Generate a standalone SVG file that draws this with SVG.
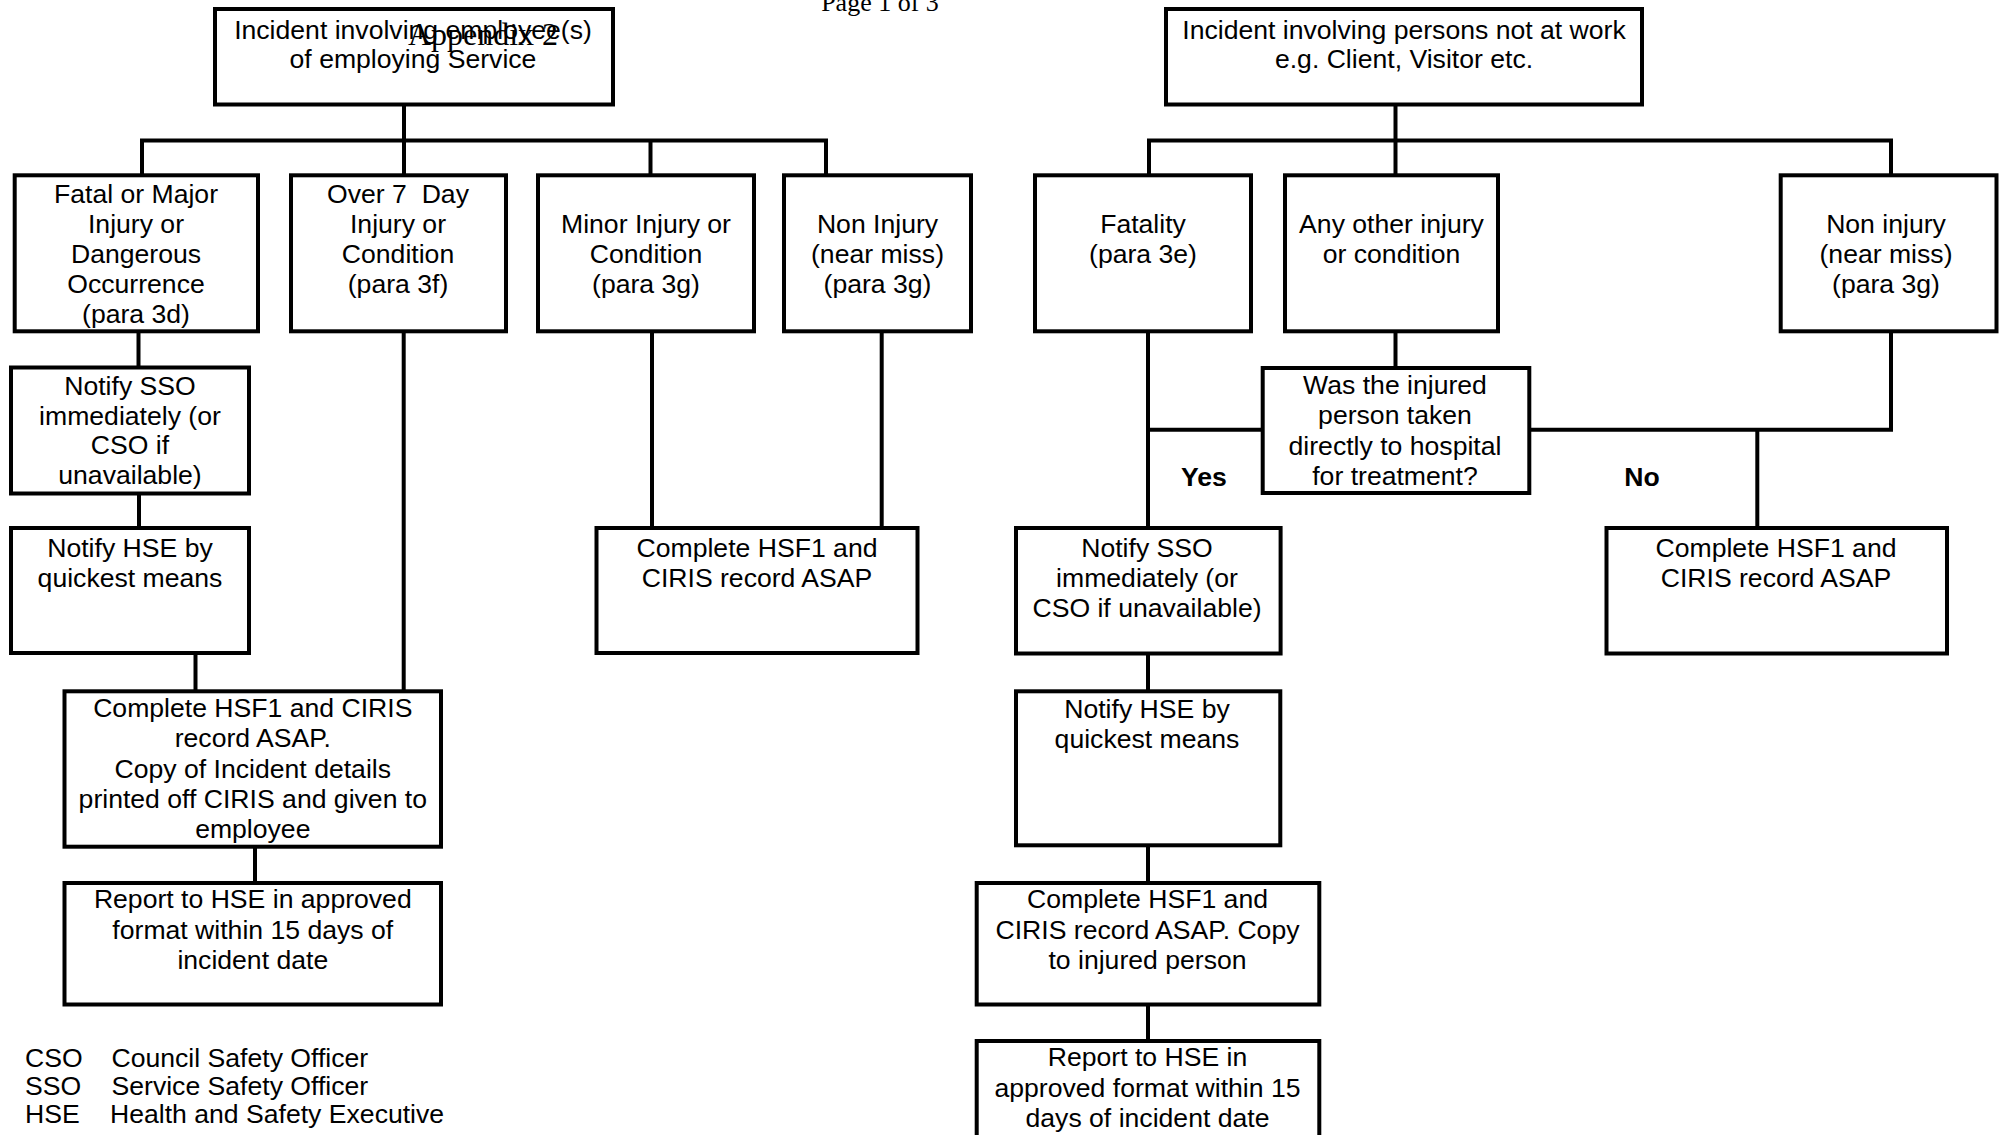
<svg xmlns="http://www.w3.org/2000/svg" width="2000" height="1135" viewBox="0 0 2000 1135">
<style>
.box{fill:#fff;stroke:#000;stroke-width:4}
.ln{fill:none;stroke:#000;stroke-width:4}
.t{font-family:"Liberation Sans",Arial,sans-serif;font-size:26.6px;text-anchor:middle;fill:#000}
.b{font-weight:bold}
.lg{font-family:"Liberation Sans",Arial,sans-serif;font-size:26.6px;fill:#000}
.hd{font-family:"Liberation Serif","Times New Roman",serif;text-anchor:middle;fill:#000}
</style>
<rect width="2000" height="1135" fill="#fff"/>
<g id="connectors">
<path class="ln" d="M404,104.5 V140.5"/>
<path class="ln" d="M142,175.3 V140.5 H826 V175.3"/>
<path class="ln" d="M404,140.5 V175.3"/>
<path class="ln" d="M650.5,140.5 V175.3"/>
<path class="ln" d="M138.5,331.3 V367.5"/>
<path class="ln" d="M139,493.5 V528"/>
<path class="ln" d="M195.5,653 V691.3"/>
<path class="ln" d="M403.7,331.3 V691.3"/>
<path class="ln" d="M255,846.7 V883"/>
<path class="ln" d="M652,331.3 V528"/>
<path class="ln" d="M881.7,331.3 V528"/>
<path class="ln" d="M1395.5,104.5 V140.5"/>
<path class="ln" d="M1149,175.3 V140.5 H1891 V175.3"/>
<path class="ln" d="M1395.5,140.5 V175.3"/>
<path class="ln" d="M1148,331.3 V528"/>
<path class="ln" d="M1395.5,331.3 V368"/>
<path class="ln" d="M1148,429.7 H1262.7"/>
<path class="ln" d="M1529.3,429.7 H1891 V331.3"/>
<path class="ln" d="M1757.3,429.7 V528"/>
<path class="ln" d="M1148,653.5 V691.3"/>
<path class="ln" d="M1148,845.3 V883"/>
<path class="ln" d="M1148,1004.5 V1041"/>
<text class="t b" x="1204" y="486">Yes</text>
<text class="t b" x="1642" y="486">No</text>
</g>
<g id="n-top-left">
<rect class="box" x="215" y="9" width="398" height="95.5"/>
<text class="t" x="413"><tspan x="413" y="38.5">Incident involving employee(s)</tspan><tspan x="413" y="67.5">of employing Service</tspan></text>
</g>
<g id="header">
<text class="hd" x="483" y="45" font-size="32">Appendix 2</text>
<text class="hd" x="880" y="10.5" font-size="26">Page 1 of 3</text>
</g>
<g id="n-fatal-major">
<rect class="box" x="14.7" y="175.3" width="243.3" height="156"/>
<text class="t"><tspan x="136" y="203.3">Fatal or Major</tspan><tspan x="136" y="233.3">Injury or</tspan><tspan x="136" y="263.3">Dangerous</tspan><tspan x="136" y="293.3">Occurrence</tspan><tspan x="136" y="323.3">(para 3d)</tspan></text>
</g>
<g id="n-over7">
<rect class="box" x="291" y="175.3" width="215" height="156"/>
<text class="t"><tspan x="398" y="203.3">Over 7&#160; Day</tspan><tspan x="398" y="233.3">Injury or</tspan><tspan x="398" y="263.3">Condition</tspan><tspan x="398" y="293.3">(para 3f)</tspan></text>
</g>
<g id="n-minor">
<rect class="box" x="538" y="175.3" width="216" height="156"/>
<text class="t"><tspan x="646" y="233.3">Minor Injury or</tspan><tspan x="646" y="263.3">Condition</tspan><tspan x="646" y="293.3">(para 3g)</tspan></text>
</g>
<g id="n-non-injury-left">
<rect class="box" x="784" y="175.3" width="187" height="156"/>
<text class="t"><tspan x="877.5" y="233.3">Non Injury</tspan><tspan x="877.5" y="263.3">(near miss)</tspan><tspan x="877.5" y="293.3">(para 3g)</tspan></text>
</g>
<g id="n-sso-left">
<rect class="box" x="11" y="367.5" width="238" height="126"/>
<text class="t"><tspan x="130" y="395">Notify SSO</tspan><tspan x="130" y="424.7">immediately (or</tspan><tspan x="130" y="454.4">CSO if</tspan><tspan x="130" y="484.1">unavailable)</tspan></text>
</g>
<g id="n-hse-left">
<rect class="box" x="11" y="528" width="238" height="125"/>
<text class="t"><tspan x="130" y="556.5">Notify HSE by</tspan><tspan x="130" y="586.5">quickest means</tspan></text>
</g>
<g id="n-complete-mid">
<rect class="box" x="596.5" y="528" width="321" height="125"/>
<text class="t"><tspan x="757" y="556.5">Complete HSF1 and</tspan><tspan x="757" y="586.5">CIRIS record ASAP</tspan></text>
</g>
<g id="n-complete-left">
<rect class="box" x="64.5" y="691.3" width="376.5" height="155.4"/>
<text class="t"><tspan x="252.8" y="717">Complete HSF1 and CIRIS</tspan><tspan x="252.8" y="747.3">record ASAP.</tspan><tspan x="252.8" y="777.6">Copy of Incident details</tspan><tspan x="252.8" y="808">printed off CIRIS and given to</tspan><tspan x="252.8" y="838">employee</tspan></text>
</g>
<g id="n-report-left">
<rect class="box" x="64.5" y="883" width="376.5" height="121.5"/>
<text class="t"><tspan x="252.8" y="908.3">Report to HSE in approved</tspan><tspan x="252.8" y="938.5">format within 15 days of</tspan><tspan x="252.8" y="968.7">incident date</tspan></text>
</g>
<g id="legend">
<text class="lg" x="25" y="1067.3">CSO</text><text class="lg" x="111.5" y="1067.3">Council Safety Officer</text>
<text class="lg" x="25" y="1095">SSO</text><text class="lg" x="111.5" y="1095">Service Safety Officer</text>
<text class="lg" x="25" y="1122.7">HSE</text><text class="lg" x="110" y="1122.7">Health and Safety Executive</text>
</g>
<g id="n-top-right">
<rect class="box" x="1166" y="9" width="476" height="95.5"/>
<text class="t"><tspan x="1404" y="38.5">Incident involving persons not at work</tspan><tspan x="1404" y="67.5">e.g. Client, Visitor etc.</tspan></text>
</g>
<g id="n-fatality">
<rect class="box" x="1035" y="175.3" width="216" height="156"/>
<text class="t"><tspan x="1143" y="233.3">Fatality</tspan><tspan x="1143" y="263.3">(para 3e)</tspan></text>
</g>
<g id="n-other-injury">
<rect class="box" x="1285" y="175.3" width="213" height="156"/>
<text class="t"><tspan x="1391.5" y="233.3">Any other injury</tspan><tspan x="1391.5" y="263.3">or condition</tspan></text>
</g>
<g id="n-non-injury-right">
<rect class="box" x="1780.7" y="175.3" width="215.8" height="156"/>
<text class="t"><tspan x="1886" y="233.3">Non injury</tspan><tspan x="1886" y="263.3">(near miss)</tspan><tspan x="1886" y="293.3">(para 3g)</tspan></text>
</g>
<g id="n-question">
<rect class="box" x="1262.7" y="368" width="266.6" height="125"/>
<text class="t"><tspan x="1395" y="394">Was the injured</tspan><tspan x="1395" y="424.3">person taken</tspan><tspan x="1395" y="454.6">directly to hospital</tspan><tspan x="1395" y="484.9">for treatment?</tspan></text>
</g>
<g id="n-sso-right">
<rect class="box" x="1016" y="528" width="264.6" height="125.5"/>
<text class="t"><tspan x="1147" y="556.5">Notify SSO</tspan><tspan x="1147" y="586.5">immediately (or</tspan><tspan x="1147" y="616.5">CSO if unavailable)</tspan></text>
</g>
<g id="n-complete-right">
<rect class="box" x="1606.5" y="528" width="340.5" height="125.5"/>
<text class="t"><tspan x="1776" y="556.5">Complete HSF1 and</tspan><tspan x="1776" y="586.5">CIRIS record ASAP</tspan></text>
</g>
<g id="n-hse-right">
<rect class="box" x="1016" y="691.3" width="264.3" height="154"/>
<text class="t"><tspan x="1147" y="717.5">Notify HSE by</tspan><tspan x="1147" y="747.5">quickest means</tspan></text>
</g>
<g id="n-complete-right-2">
<rect class="box" x="976.7" y="883" width="342.6" height="121.5"/>
<text class="t"><tspan x="1147.5" y="908.3">Complete HSF1 and</tspan><tspan x="1147.5" y="938.6">CIRIS record ASAP. Copy</tspan><tspan x="1147.5" y="968.9">to injured person</tspan></text>
</g>
<g id="n-report-right">
<rect class="box" x="976.7" y="1041" width="342.6" height="110"/>
<text class="t"><tspan x="1147.5" y="1066.3">Report to HSE in</tspan><tspan x="1147.5" y="1096.7">approved format within 15</tspan><tspan x="1147.5" y="1127.1">days of incident date</tspan></text>
</g>
</svg>
